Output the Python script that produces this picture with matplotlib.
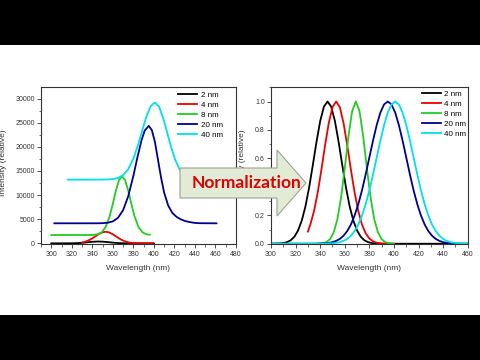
import matplotlib
matplotlib.use('Agg')
import matplotlib.pyplot as plt
from matplotlib.patches import Polygon, Rectangle
from matplotlib.ticker import MultipleLocator, FormatStrFormatter

# series labels / colours
labels = ['2 nm', '4 nm', '8 nm', '20 nm', '40 nm']
colors = ['#000000', '#ee0000', '#22cc22', '#000090', '#00e0e8']

# raw spectra (left panel)
raw_black_wl = [300, 305, 310, 315, 320, 325, 330, 335, 340, 345, 350, 355, 360, 365, 370, 375, 380, 385, 390, 395, 400]
raw_black = [0, 0, 1, 3, 13, 42, 106, 207, 317, 378, 351, 253, 143, 62, 21, 6, 1, 0, 0, 0, 0]

raw_red_wl = [330, 334, 338, 342, 346, 350, 353, 356, 360, 364, 368, 372, 376, 380, 384, 388, 392, 399]
raw_red = [170, 394, 780, 1310, 1879, 2294, 2400, 2294, 1879, 1310, 780, 394, 170, 62, 20, 5, 0, 0]

raw_green_wl = [300, 320, 340, 345, 349, 353, 357, 360, 363, 366, 369, 372, 375, 378, 381, 385, 389, 393, 396]
raw_green = [1720, 1720, 1737, 1854, 2257, 3371, 5685, 8198, 10931, 13090, 13920, 13090, 10931, 8198, 5685, 3371, 2257, 1854, 1800]

raw_navy_wl = [303, 330, 345, 350, 355, 360, 365, 370, 375, 380, 384, 388, 391, 395, 398, 401, 404, 407, 410, 414,
               418, 422, 426, 430, 435, 440, 445, 461]
raw_navy = [4150, 4150, 4156, 4180, 4271, 4550, 5281, 6877, 9766, 13987, 17866, 21421, 23340, 24350, 23461, 21017,
            17300, 13600, 10500, 7800, 6300, 5500, 5000, 4650, 4400, 4230, 4170, 4150]

raw_cyan_wl = [316, 340, 355, 360, 365, 370, 375, 380, 385, 389, 393, 397, 401, 405, 409, 413, 417, 421, 425, 429,
               433, 437, 442, 450, 462]
raw_cyan = [13200, 13200, 13230, 13310, 13547, 14130, 15360, 17540, 20700, 23650, 26440, 28470, 29200, 28330, 26010,
            22910, 19780, 17190, 15360, 14260, 13650, 13380, 13250, 13200, 13200]

# normalized spectra (right panel)
norm_black_wl = [300, 304, 307, 310, 313, 316, 319, 322, 325, 328, 331, 334, 337, 340, 343, 346, 349, 352, 355, 358,
                 361, 364, 367, 370, 373, 376, 379, 382, 385, 388, 395, 460]
norm_black = [0, 0.001, 0.002, 0.005, 0.011, 0.024, 0.049, 0.093, 0.162, 0.262, 0.395, 0.552, 0.716, 0.862, 0.963,
              1.0, 0.963, 0.862, 0.716, 0.552, 0.395, 0.262, 0.162, 0.093, 0.049, 0.024, 0.011, 0.005, 0.002, 0.001,
              0, 0]

norm_red_wl = [330, 332, 335, 338, 341, 344, 347, 350, 353, 356, 359, 362, 365, 368, 371, 374, 377, 380, 383, 386,
               389, 392, 400]
norm_red = [0.085, 0.135, 0.230, 0.361, 0.520, 0.693, 0.849, 0.960, 1.0, 0.960, 0.849, 0.693, 0.520, 0.361, 0.230,
            0.135, 0.073, 0.037, 0.017, 0.007, 0.003, 0.001, 0]

norm_green_wl = [300, 338, 342, 345, 348, 351, 354, 357, 360, 363, 366, 369, 372, 375, 378, 381, 384, 387, 390, 393, 396, 400]
norm_green = [0, 0, 0.003, 0.011, 0.032, 0.080, 0.172, 0.325, 0.531, 0.755, 0.932, 1.0, 0.932, 0.755, 0.531, 0.325,
              0.172, 0.080, 0.032, 0.011, 0.003, 0]

norm_navy_wl = [300, 335, 338, 341, 344, 347, 350, 353, 356, 359, 362, 365, 368, 371, 374, 377, 380, 383, 386, 389,
                392, 395, 398, 401, 404, 407, 410, 413, 416, 419, 422, 425, 428, 431, 434, 437, 440, 443, 446, 449,
                452, 455, 460]
norm_navy = [0, 0, 0.001, 0.002, 0.003, 0.006, 0.011, 0.020, 0.034, 0.056, 0.089, 0.135, 0.198, 0.278, 0.375, 0.487,
             0.607, 0.726, 0.835, 0.923, 0.980, 1.0, 0.980, 0.923, 0.835, 0.726, 0.607, 0.487, 0.375, 0.278, 0.198,
             0.135, 0.089, 0.056, 0.034, 0.020, 0.011, 0.006, 0.003, 0.002, 0.001, 0, 0]

norm_cyan_wl = [300, 341, 344, 347, 350, 353, 356, 359, 362, 365, 368, 371, 374, 377, 380, 383, 386, 389, 392, 395,
                398, 401, 404, 407, 410, 413, 416, 419, 422, 425, 428, 431, 434, 437, 440, 443, 446, 449, 452, 455,
                458, 460]
norm_cyan = [0, 0, 0.001, 0.002, 0.003, 0.006, 0.011, 0.020, 0.034, 0.056, 0.089, 0.135, 0.198, 0.278, 0.375, 0.487,
             0.607, 0.726, 0.835, 0.923, 0.980, 1.0, 0.980, 0.923, 0.835, 0.726, 0.607, 0.487, 0.375, 0.278, 0.198,
             0.135, 0.089, 0.056, 0.034, 0.020, 0.011, 0.006, 0.003, 0.002, 0.001, 0]

raw = [(raw_black_wl, raw_black), (raw_red_wl, raw_red), (raw_green_wl, raw_green),
       (raw_navy_wl, raw_navy), (raw_cyan_wl, raw_cyan)]
norm = [(norm_black_wl, norm_black), (norm_red_wl, norm_red), (norm_green_wl, norm_green),
        (norm_navy_wl, norm_navy), (norm_cyan_wl, norm_cyan)]

plt.rcParams['font.family'] = ['Liberation Sans', 'DejaVu Sans']

W, H = 480, 360
fig = plt.figure(figsize=(W / 100, H / 100), dpi=100)


def box(x0, y0, x1, y1):
    # pixel box (top-left origin) -> figure fraction rect
    return [x0 / W, 1 - y1 / H, (x1 - x0) / W, (y1 - y0) / H]


ax1 = fig.add_axes(box(41, 87, 236, 244.3))
ax2 = fig.add_axes(box(271, 87.3, 467.7, 244.3))

for (x, y), c, l in zip(raw, colors, labels):
    ax1.plot(x, y, color=c, lw=1.3, label=l, solid_joinstyle='round')
for (x, y), c, l in zip(norm, colors, labels):
    ax2.plot(x, y, color=c, lw=1.3, label=l, solid_joinstyle='round')

ax1.set_xlim(290, 480)
ax1.set_ylim(-200, 32400)
ax1.xaxis.set_major_locator(MultipleLocator(20))
ax1.xaxis.set_minor_locator(MultipleLocator(10))
ax1.yaxis.set_major_locator(MultipleLocator(5000))
ax1.yaxis.set_minor_locator(MultipleLocator(2500))

ax2.set_xlim(300, 460)
ax2.set_ylim(-0.004, 1.1)
ax2.xaxis.set_major_locator(MultipleLocator(20))
ax2.xaxis.set_minor_locator(MultipleLocator(10))
ax2.yaxis.set_major_locator(MultipleLocator(0.2))
ax2.yaxis.set_minor_locator(MultipleLocator(0.1))
ax2.yaxis.set_major_formatter(FormatStrFormatter('%.1f'))

for ax, lx in ((ax1, -0.176), (ax2, -0.127)):
    for s in ax.spines.values():
        s.set_color('#333333')
        s.set_linewidth(0.8)
    ax.tick_params(which='major', direction='out', length=3, width=0.6, pad=1.5,
                   labelsize=5, colors='#333333')
    ax.tick_params(which='minor', direction='out', length=1.8, width=0.5, colors='#333333')
    ax.set_xlabel('Wavelength (nm)', fontsize=6, color='#333333')
    ax.set_ylabel('Intensity (relative)', fontsize=6, color='#333333')
    ax.xaxis.set_label_coords(0.5, -0.132)
    ax.yaxis.set_label_coords(lx, 0.52)

ax1.legend(loc='upper left', bbox_to_anchor=(0.703, 0.975), frameon=False, fontsize=5.8,
           handlelength=2.4, handletextpad=0.4, labelspacing=0.3, borderpad=0, borderaxespad=0)
ax2.legend(loc='upper left', bbox_to_anchor=(0.766, 0.98), frameon=False, fontsize=5.8,
           handlelength=2.4, handletextpad=0.4, labelspacing=0.3, borderpad=0, borderaxespad=0)

# letterbox bars
fig.patches.append(Rectangle((0, 1 - 45 / H), 1, 45 / H, transform=fig.transFigure,
                             facecolor='black', edgecolor='none', zorder=5))
fig.patches.append(Rectangle((0, 0), 1, 45 / H, transform=fig.transFigure,
                             facecolor='black', edgecolor='none', zorder=5))

# arrow
arrow_px = [(180, 168), (277, 168), (277, 150), (306, 183), (277, 216), (277, 198), (180, 198)]
arrow = Polygon([(x / W, 1 - y / H) for x, y in arrow_px], closed=True, transform=fig.transFigure,
                facecolor='#e1ebd6', edgecolor='#9aa590', lw=0.8, zorder=4)
fig.patches.append(arrow)
fig.text(246.5 / W, 1 - 183 / H, 'Normalization', ha='center', va='center', color='#dd0000',
         fontsize=12.5, fontweight='bold', family=['Lato', 'DejaVu Sans'], zorder=6)

fig.savefig('out.png', dpi=100)
